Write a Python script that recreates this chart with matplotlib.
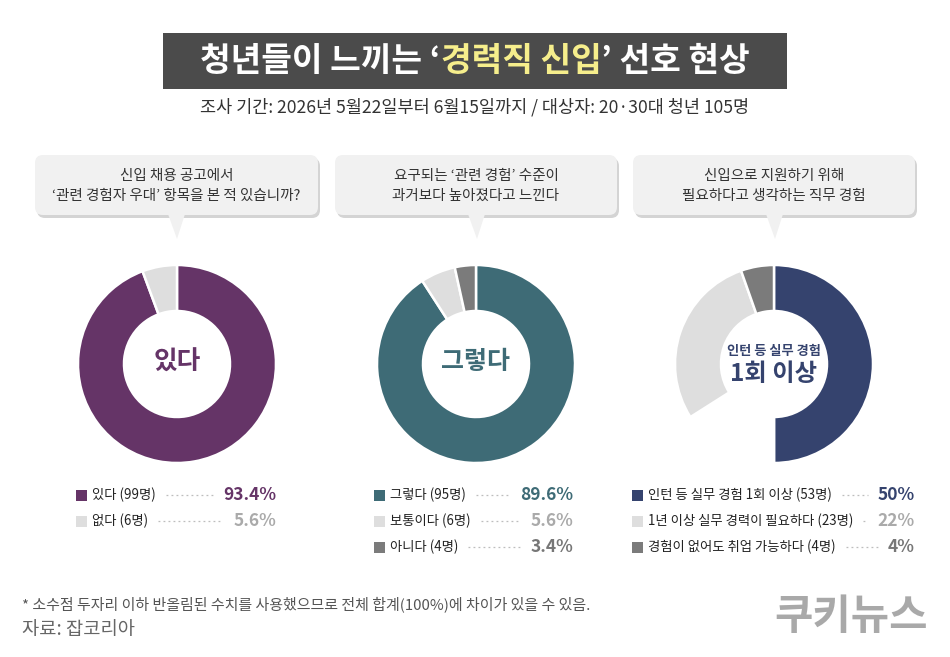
import matplotlib
matplotlib.use("Agg")
import matplotlib.pyplot as plt
from matplotlib.patches import FancyBboxPatch, Polygon, Rectangle

plt.rcParams['font.family'] = ['Noto Sans CJK KR', 'DejaVu Sans']

# data
title_parts = ["청년들이 느끼는 ‘", "경력직 신입", "’ 선호 현상"]
subtitle = "조사 기간: 2026년 5월22일부터 6월15일까지 / 대상자: 20·30대 청년 105명"
questions = [
    "신입 채용 공고에서\n‘관련 경험자 우대’ 항목을 본 적 있습니까?",
    "요구되는 ‘관련 경험’ 수준이\n과거보다 높아졌다고 느낀다",
    "신입으로 지원하기 위해\n필요하다고 생각하는 직무 경험",
]
labels1 = ["있다 (99명)", "없다 (6명)"]
values1 = [93.4, 5.6]
labels2 = ["그렇다 (95명)", "보통이다 (6명)", "아니다 (4명)"]
values2 = [89.6, 5.6, 3.4]
labels3 = ["인턴 등 실무 경험 1회 이상 (53명)", "1년 이상 실무 경력이 필요하다 (23명)",
           "경험이 없어도 취업 가능하다 (4명)"]
values3 = [50, 22, 4]
# third ring as drawn: blue, empty gap, light gray, dark gray
ring3 = [50, 16, 28.6, 5.4]
note = "* 소수점 두자리 이하 반올림된 수치를 사용했으므로 전체 합계(100%)에 차이가 있을 수 있음."
source = "자료: 잡코리아"
logo = "쿠키뉴스"

purple = "#653467"
teal = "#3e6b76"
navy = "#35436e"
lgray = "#dedede"
dgray = "#7b7b7b"

W, H = 950, 657
fig = plt.figure(figsize=(W / 100, H / 100), dpi=100)
ax = fig.add_axes([0, 0, 1, 1])
ax.axis("off")


def Y(y):
    return H - y


# donuts
centers = [177, 476, 774]
cy = 364
r_out, ring_w = 99, 46
ax.pie(values1, colors=[purple, lgray], center=(centers[0], Y(cy)), radius=r_out,
       startangle=90, counterclock=False,
       wedgeprops=dict(width=ring_w, edgecolor="white", linewidth=1.8))
ax.pie(values2, colors=[teal, lgray, dgray], center=(centers[1], Y(cy)), radius=r_out,
       startangle=90, counterclock=False,
       wedgeprops=dict(width=ring_w, edgecolor="white", linewidth=1.8))
ax.pie(ring3, colors=[navy, "white", lgray, dgray], center=(centers[2], Y(cy)), radius=r_out,
       startangle=90, counterclock=False,
       wedgeprops=dict(width=ring_w, edgecolor="white", linewidth=1.8))

ax.set_xlim(0, W)
ax.set_ylim(0, H)
ax.set_aspect("auto")

fig.canvas.draw()
rend = fig.canvas.get_renderer()


def text_w(t):
    bb = t.get_window_extent(renderer=rend)
    return bb.width


# title box
ax.add_patch(Rectangle((163, Y(89)), 624, 56, facecolor="#4b4b4b", edgecolor="none"))
cols = ["white", "#f6ee8c", "white"]
tmp = [ax.text(0, 0, p, fontsize=24, fontweight="bold") for p in title_parts]
widths = [text_w(t) for t in tmp]
for t in tmp:
    t.remove()
x0 = 475 - sum(widths) / 2
for p, c, w in zip(title_parts, cols, widths):
    ax.text(x0, Y(62), p, fontsize=24, fontweight="bold", color=c, va="center", ha="left")
    x0 += w

ax.text(475, Y(107), subtitle, fontsize=12.6, color="#333333", ha="center", va="center")

# speech bubbles
bubbles = [(35, 318, 177), (335, 617, 477), (633, 915, 775)]
for (l, r, tip), q in zip(bubbles, questions):
    top, bot = 155, 215
    sh = FancyBboxPatch((l + 2, Y(bot) - 3), r - l, bot - top,
                        boxstyle="round,pad=0,rounding_size=8",
                        facecolor="#b8b8b8", edgecolor="none", alpha=0.6)
    ax.add_patch(sh)
    box = FancyBboxPatch((l, Y(bot)), r - l, bot - top,
                         boxstyle="round,pad=0,rounding_size=8",
                         facecolor="#f1f1f1", edgecolor="none")
    ax.add_patch(box)
    ax.add_patch(Polygon([(tip - 9, Y(bot) + 1), (tip + 8, Y(bot) + 1), (tip, Y(239))],
                         closed=True, facecolor="#f1f1f1", edgecolor="none"))
    ax.text((l + r) / 2, Y(186), q, fontsize=10.5, color="#333333", ha="center",
            va="center", linespacing=1.55)

# donut centre labels
ax.text(centers[0], Y(362), "있다", fontsize=18.5, fontweight="bold", color=purple,
        ha="center", va="center")
ax.text(centers[1], Y(362), "그렇다", fontsize=18, fontweight="bold", color=teal,
        ha="center", va="center")
ax.text(centers[2], Y(351), "인턴 등 실무 경험", fontsize=9.5, fontweight="bold", color=navy,
        ha="center", va="center")
ax.text(centers[2], Y(374), "1회 이상", fontsize=17.5, fontweight="bold", color=navy,
        ha="center", va="center")

# legends
rows_y = [495, 521, 547]
legends = [
    (76, 276, labels1, values1, [purple, lgray], [purple, "#aaaaaa"], "{:.1f}%"),
    (374, 573, labels2, values2, [teal, lgray, dgray], [teal, "#aaaaaa", "#777777"], "{:.1f}%"),
    (632, 915, labels3, values3, [navy, lgray, dgray], [navy, "#aaaaaa", "#777777"], "{:.0f}%"),
]
for sx, right, labs, vals, sq_cols, pct_cols, fmt in legends:
    for yy, lab, v, sc, pc in zip(rows_y, labs, vals, sq_cols, pct_cols):
        ax.add_patch(Rectangle((sx, Y(yy) - 5.5), 11, 11, facecolor=sc, edgecolor="none"))
        lt = ax.text(sx + 16, Y(yy), lab, fontsize=9.6, color="#222222", ha="left", va="center")
        pt = ax.text(right, Y(yy), fmt.format(v), fontsize=12.5, fontweight="bold", color=pc,
                     ha="right", va="center")
        lw = text_w(lt)
        pw = text_w(pt)
        ax.plot([sx + 16 + lw + 10, right - pw - 10], [Y(yy), Y(yy)], color="#bdbdbd",
                linestyle=(0, (1.5, 2.5)), linewidth=0.9)

# footer
ax.text(22, Y(604), note, fontsize=10.8, color="#555555", ha="left", va="center")
ax.text(22, Y(629), source, fontsize=13.5, color="#666666", ha="left", va="center")
ax.text(928, Y(617), logo, fontsize=30, fontweight="bold", color="#a9a9a9", ha="right",
        va="center")

fig.savefig("out.png", dpi=100, facecolor="white")
